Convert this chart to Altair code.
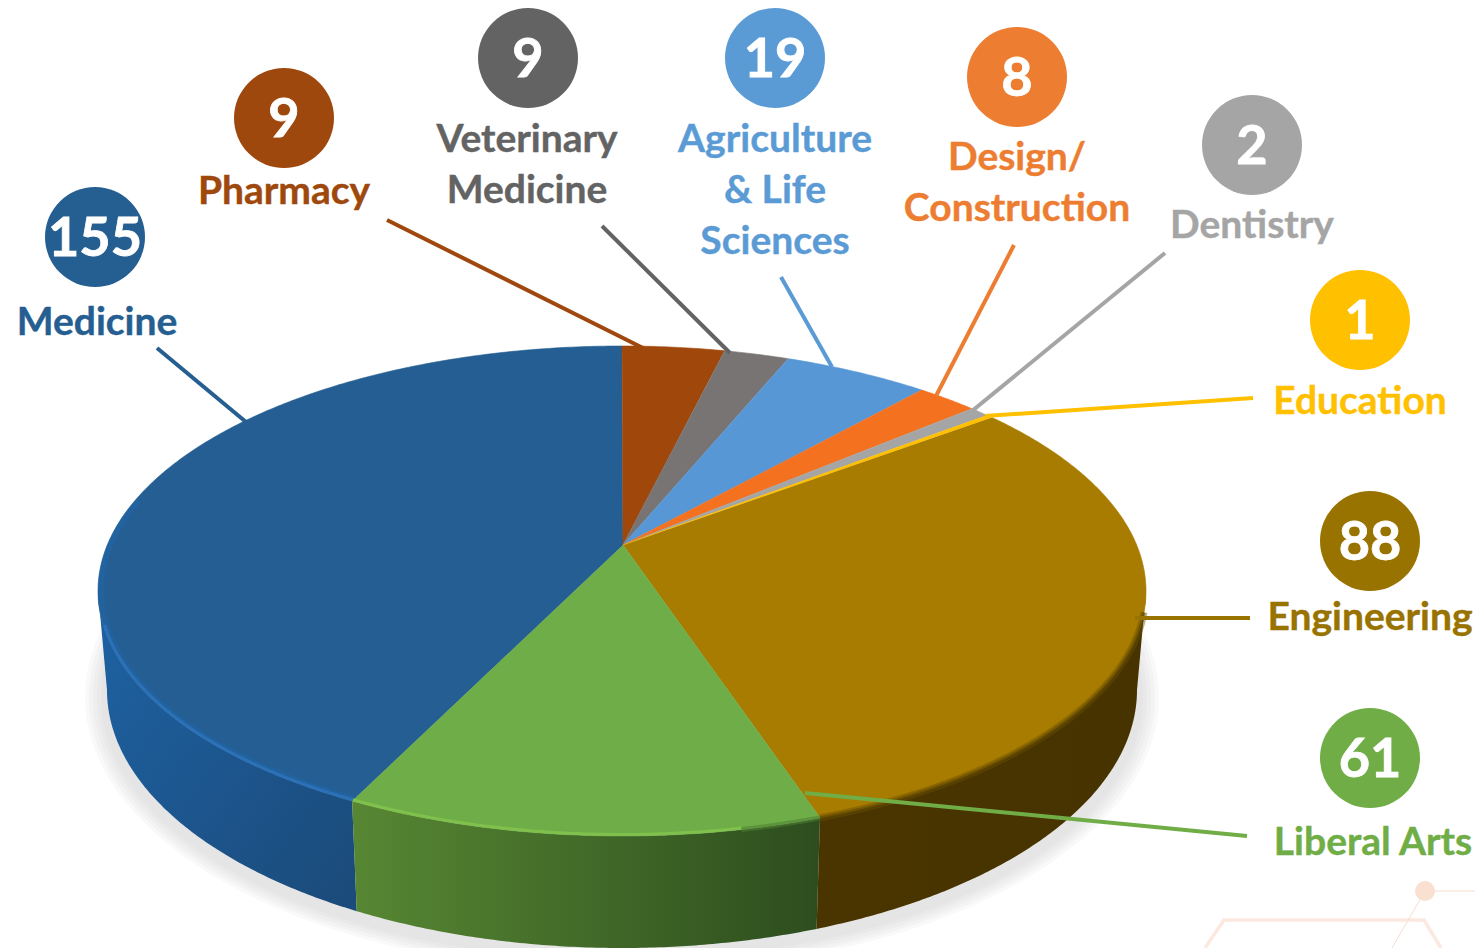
import math
import altair as alt
import pandas as pd

# ---- values ----
categories = ["Medicine", "Pharmacy", "Veterinary Medicine", "Agriculture & Life Sciences",
              "Design/Construction", "Dentistry", "Education", "Engineering", "Liberal Arts"]
counts = [155, 9, 9, 19, 8, 2, 1, 88, 61]
# size of each wedge as it is drawn on the tilted disc (degrees, clockwise from the top;
# Medicine ends at the top, Pharmacy starts there)
drawn_sweep = [149.0, 11.3, 7.2, 16.4, 7.0, 2.3, 0.7, 112.9, 53.2]

# ---- styles ----
top_colors = ["#245e92", "#a0480c", "#787474", "#5797d6", "#f4711f", "#a5a5a5", "#ffc000", "#a87c00", "#6ead47"]
text_colors = ["#255e91", "#9e480e", "#636363", "#5b9bd5", "#ed7d31", "#a5a5a5", "#ffc000", "#997300", "#70ad47"]
FONT = "Lato"

# ---- layout of the disc ----
TOP = dict(cx=622, cy=591, a=524, b=245)
BOT = dict(cx=622, cy=690, a=515, b=258)
HUB = (623, 545)

bubbles = pd.DataFrame({
    "x": [95, 284, 528, 775, 1017, 1252, 1360, 1370, 1370],
    "y": [237, 118, 58, 58, 77, 145, 320, 541, 758],
    "n": counts, "c": text_colors, "cat": categories})

label_rows = [
    ("Medicine", 97, 323, 0), ("Pharmacy", 284, 192, 1),
    ("Veterinary", 527, 140, 2), ("Medicine", 527, 191, 2),
    ("Agriculture", 775, 140, 3), ("& Life", 775, 191, 3), ("Sciences", 775, 242, 3),
    ("Design/", 1017, 158, 4), ("Construction", 1017, 209, 4),
    ("Dentistry", 1252, 226, 5), ("Education", 1360, 402, 6),
    ("Engineering", 1370, 618, 7), ("Liberal Arts", 1373, 843, 8)]
labels = pd.DataFrame([{"t": t, "x": x, "y": y, "c": text_colors[i]} for t, x, y, i in label_rows])

leaders = [
    (0, 157, 348, 246, 422), (1, 387, 220, 645, 349), (2, 602, 226, 730, 353),
    (3, 781, 277, 832, 367), (4, 1014, 245, 936, 396), (5, 1165, 253, 972, 411),
    (6, 1253, 398, 985, 416), (7, 1250, 618, 1135, 618), (8, 1247, 836, 805, 793)]

W, H = 1467, 940
X = alt.X("x:Q", scale=alt.Scale(domain=[8, 8 + W], nice=False), axis=None)
Y = alt.Y("y:Q", scale=alt.Scale(domain=[8, 8 + H], reverse=True, nice=False), axis=None)


def pt(e, phi):
    r = math.radians(phi)
    return e["cx"] + e["a"] * math.sin(r), e["cy"] - e["b"] * math.cos(r)


def arc(e, a0, a1):
    n = max(2, int(abs(a1 - a0) * 2) + 1)
    return [pt(e, a0 + (a1 - a0) * i / (n - 1)) for i in range(n)]


def inset(d):
    return dict(cx=TOP["cx"], cy=TOP["cy"], a=TOP["a"] - d, b=TOP["b"] - d)


def frame(points):
    return pd.DataFrame({"x": [p[0] for p in points], "y": [p[1] for p in points],
                         "o": list(range(len(points)))})


def poly(points, fill, stroke=None, opacity=1.0, sw=0.6):
    return alt.Chart(frame(points)).mark_line(
        fill=fill, stroke=stroke or (fill if isinstance(fill, str) else "#000000"),
        strokeWidth=sw, opacity=opacity, strokeJoin="round").encode(x=X, y=Y, order="o:Q")


def stroke_line(points, color, width, opacity=1.0, cap="butt"):
    return alt.Chart(frame(points)).mark_line(
        stroke=color, strokeWidth=width, opacity=opacity, strokeCap=cap).encode(x=X, y=Y, order="o:Q")


def grad(c0, c1, x2=1, y2=0):
    return alt.LinearGradient(gradient="linear", x1=0, y1=0, x2=x2, y2=y2,
                              stops=[alt.GradientStop(color=c0, offset=0), alt.GradientStop(color=c1, offset=1)])


# wedge boundaries
start = {}
phi = 0.0
for i in [1, 2, 3, 4, 5, 6, 7, 8, 0]:
    start[i] = (phi, phi + drawn_sweep[i])
    phi += drawn_sweep[i]

layers = []

# soft shadow
for k in range(22, 2, -4):
    e = dict(cx=622, cy=697, a=BOT["a"] + k, b=BOT["b"] + k * 0.8)
    layers.append(poly(arc(e, 0, 360), "#b8b8c0", opacity=0.09, sw=0))

# walls
wall_fill = {0: grad("#1e62a3", "#1b4b7b", 1, 0.9), 8: grad("#578733", "#2d4d1e"), 7: grad("#4a3500", "#463300")}
wall_span = {0: (start[0][0], 270), 8: start[8], 7: (90, start[7][1])}
for i, (a0, a1) in wall_span.items():
    pts = arc(TOP, a0, a1) + arc(BOT, a1, a0)
    layers.append(poly(pts, wall_fill[i], stroke="#00000000", sw=0))

# top surface
for i in [0, 1, 2, 3, 4, 5, 7, 8, 6]:
    a0, a1 = start[i]
    layers.append(poly([HUB] + arc(TOP, a0, a1), top_colors[i]))

# bevel on the rim
layers.append(stroke_line(arc(inset(3), start[0][0], 292), "#1f66a8", 6, 0.6))
layers.append(stroke_line(arc(inset(1.5), start[0][0], 262), "#2f75bd", 3, 0.8))
layers.append(stroke_line(arc(inset(1.5), start[8][0] + 9, start[8][1]), "#83c54d", 3, 0.8))
layers.append(stroke_line(arc(TOP, start[8][0], start[8][0] + 9), "#4f7f33", 5, 0.55))
layers.append(stroke_line(arc(TOP, 95, start[7][1]), "#6a4f00", 7, 0.45))
layers.append(stroke_line(arc(TOP, 95, start[7][1]), "#5a4200", 3, 0.55))

# faint decoration at the lower right
layers.append(stroke_line([(1205, 948), (1224, 920), (1424, 920), (1441, 948)], "#fbe9df", 3.5))
layers.append(stroke_line([(1425, 891), (1392, 948)], "#f3dfd3", 1))
layers.append(stroke_line([(1425, 891), (1483, 891)], "#fbe9df", 1.5))
deco = pd.DataFrame({"x": [1425], "y": [891]})
layers.append(alt.Chart(deco).mark_circle(size=400, color="#fae0d0", opacity=1).encode(x=X, y=Y))

# leader lines
for i, x0, y0, x1, y1 in leaders:
    layers.append(stroke_line([(x0, y0), (x1, y1)], text_colors[i], 4))

# bubbles, counts, labels
layers.append(alt.Chart(bubbles).mark_circle(size=10000, opacity=1).encode(
    x=X, y=Y, color=alt.Color("c:N", scale=None), tooltip=["cat:N", "n:Q"]))
layers.append(alt.Chart(bubbles).mark_text(
    font=FONT, fontWeight="bold", fontSize=54, color="white", stroke="white", strokeWidth=0.8,
    baseline="middle", align="center", dy=3
).encode(x=X, y=Y, text="n:N"))
layers.append(alt.Chart(labels).mark_text(
    font=FONT, fontWeight="bold", fontSize=39, strokeWidth=0.4, baseline="middle", align="center"
).encode(x=X, y=Y, text="t:N", color=alt.Color("c:N", scale=None), stroke=alt.Stroke("c:N", scale=None)))

chart = alt.layer(*layers).properties(
    width=W, height=H, padding=0, autosize=alt.AutoSizeParams(type="none")
).configure_view(stroke=None)

chart.save("out.html", embed_options={"renderer": "svg", "actions": False})
